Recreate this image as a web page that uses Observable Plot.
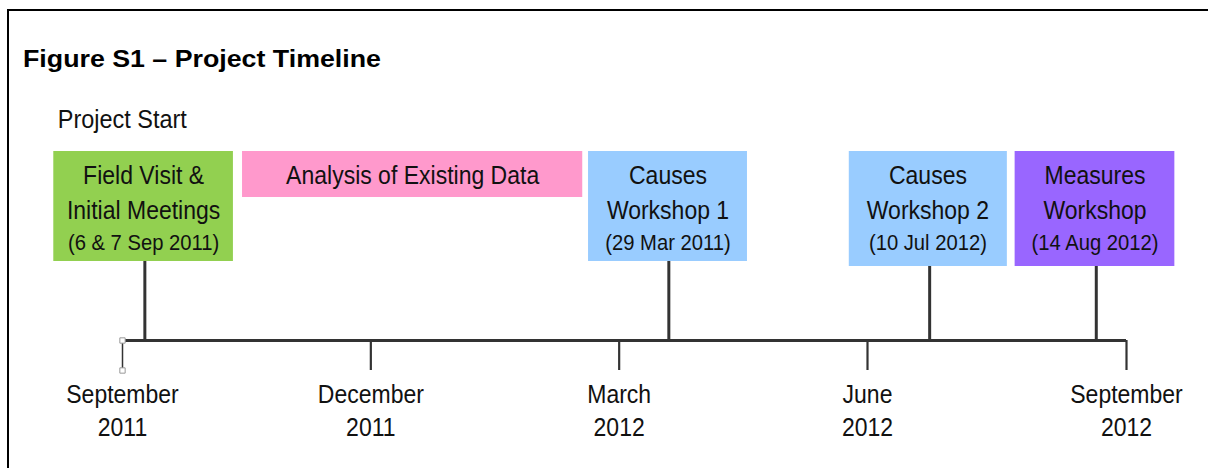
<!DOCTYPE html>
<html>
<head>
<meta charset="utf-8">
<script src="https://cdn.jsdelivr.net/npm/d3@7"></script>
<script src="https://cdn.jsdelivr.net/npm/@observablehq/plot@0.6"></script>
<style>
  html, body { margin: 0; padding: 0; background: #fff; }
  #wrap { position: relative; width: 1208px; height: 468px; overflow: hidden; background: #fff; }
  #frame { position: absolute; left: 7px; top: 9px; width: 1400px; height: 700px; border: 2px solid #000; box-sizing: border-box; }
  #title { position: absolute; left: 23px; top: 44px; line-height: 30px; font-family: "Liberation Sans", Arial, sans-serif; font-weight: bold; font-size: 24px; color: #000; white-space: nowrap; transform: scaleX(1.115); transform-origin: 0 0; }
  #chart { position: absolute; left: 0; top: 0; }
</style>
</head>
<body>
<div id="wrap">
  <div id="frame"></div>
  <div id="title">Figure S1 – Project Timeline</div>
  <div id="chart"></div>
</div>
<script>
// ---- data (x values in months since 1 September 2011) ----
const tickMonths = [0, 3, 6, 9, 12];
const tickMonthNames = ["September", "December", "March", "June", "September"];
const tickYears = ["2011", "2011", "2012", "2012", "2012"];

const eventTitles = [
  ["Field Visit &", "Initial Meetings"],
  ["Analysis of Existing Data"],
  ["Causes", "Workshop 1"],
  ["Causes", "Workshop 2"],
  ["Measures", "Workshop"]
];
const eventDates = ["(6 & 7 Sep 2011)", "", "(29 Mar 2011)", "(10 Jul 2012)", "(14 Aug 2012)"];
const eventStart = [-0.83, 1.45, 5.63, 8.78, 10.71];
const eventEnd = [1.34, 5.56, 7.55, 10.62, 12.56];
const eventStem = [0.27, null, 6.60, 9.72, 11.65];
const startLabel = "Project Start";

// ---- layout / style (pixel rows on the y scale) ----
const colors = ["#92D050", "#FF99CC", "#99CCFF", "#99CCFF", "#9966FF"];
const boxTop = 151;
const boxBottom = [261, 197, 261, 266, 266];
const lineY = [175.5, 210.5];
const dateY = 242;
const axisY = 340;
const tickBottom = 370;
const monthY = 394;
const yearY = 427;
const FONT = "Liberation Sans, Arial, sans-serif";
const SQUEEZE = 0.92;

const boxes = eventTitles.map((t, i) => ({
  x1: eventStart[i], x2: eventEnd[i], y1: boxTop, y2: boxBottom[i], color: colors[i]
}));
const titleLines = eventTitles.flatMap((t, i) => t.map((s, j) => ({
  x: (eventStart[i] + eventEnd[i]) / 2, y: lineY[j], text: s
})));
const dateLines = eventDates.map((d, i) => ({
  x: (eventStart[i] + eventEnd[i]) / 2, y: dateY, text: d
})).filter(d => d.text);
const stems = eventStem.map((s, i) => ({x: s, y1: boxBottom[i], y2: axisY})).filter(d => d.x != null);
const ticks = tickMonths.map((m, i) => ({x: m, month: tickMonthNames[i], year: tickYears[i]}));

const chart = Plot.plot({
  width: 1208,
  height: 468,
  margin: 0,
  style: {background: "transparent", overflow: "visible"},
  x: {type: "linear", domain: [0, 9, 12], range: [122, 867, 1126], axis: null},
  y: {type: "linear", domain: [0, 468], range: [0, 468], axis: null},
  marks: [
    Plot.rect(boxes, {x1: "x1", x2: "x2", y1: "y1", y2: "y2", fill: "color"}),
    Plot.text([startLabel], {x: eventStart[0], y: 119, text: d => d, textAnchor: "start", dx: 4,
      fontSize: 25.5, fontFamily: FONT, fill: "#111"}),
    Plot.text(titleLines, {x: "x", y: "y", text: "text", fontSize: 25, fontFamily: FONT, fill: "#111"}),
    Plot.text(dateLines, {x: "x", y: "y", text: "text", fontSize: 22, fontFamily: FONT, fill: "#111"}),
    Plot.ruleX(stems, {x: "x", y1: "y1", y2: "y2", stroke: "#333", strokeWidth: 3}),
    Plot.ruleX(ticks, {x: "x", y1: axisY, y2: tickBottom, stroke: "#333", strokeWidth: d => d.x === 0 ? 1.5 : 2.2}),
    Plot.ruleY([axisY], {x1: tickMonths[0], x2: tickMonths[tickMonths.length - 1], stroke: "#333", strokeWidth: 3.2}),
    Plot.dot([axisY, tickBottom], {x: tickMonths[0], y: d => d, symbol: "square", r: 3,
      fill: "#fff", stroke: "#999", strokeWidth: 1}),
    Plot.text(ticks, {x: "x", y: monthY, text: "month", fontSize: 25, fontFamily: FONT, fill: "#111"}),
    Plot.text(ticks, {x: "x", y: yearY, text: "year", fontSize: 25, fontFamily: FONT, fill: "#111"})
  ]
});
// narrow the text glyphs horizontally (condensed face look)
chart.querySelectorAll("text").forEach(t => {
  const tr = t.getAttribute("transform");
  if (tr) t.setAttribute("transform", tr + ` scale(${SQUEEZE},1)`);
});
document.getElementById("chart").appendChild(chart);
</script>
</body>
</html>
